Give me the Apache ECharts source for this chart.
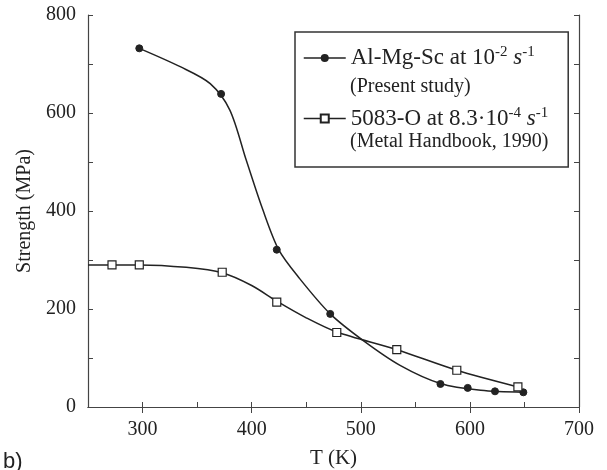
<!DOCTYPE html>
<html>
<head>
<meta charset="utf-8">
<script src="https://cdn.jsdelivr.net/npm/echarts@6/dist/echarts.min.js"></script>
<style>
  html, body { margin: 0; padding: 0; background: #fff; }
  #chart { width: 607px; height: 470px; }
</style>
</head>
<body>
<div id="chart"></div>
<script>
// Measured strengths (T in K, strength in MPa)
const alMgScT        = [297, 372, 423, 472, 573, 598, 623, 649];
const alMgScStrength = [732, 639, 321, 190, 47, 39, 32, 30];
const aa5083T        = [272, 297, 373, 423, 478, 533, 588, 644];
const aa5083Strength = [290, 290, 275, 214, 152, 117, 75, 41];

// Fitted trend curves, as drawn through the measurements
const alMgScFitT        = [297, 335, 362, 380, 395, 410, 425, 444, 472, 502, 536, 573, 610, 649];
const alMgScFitStrength = [732, 694, 660, 606, 504, 404, 320, 262, 190, 136, 85, 48, 34, 30];
const aa5083FitT        = [250, 297, 340, 373, 400, 423, 450, 478, 533, 588, 644];
const aa5083FitStrength = [290, 290, 285, 274, 248, 216, 182, 153, 117, 75, 41];

// Axis ticks
const xMajorTicks = [300, 400, 500, 600, 700];
const yTickLabels = [0, 200, 400, 600, 800];

const zip = (xs, ys) => xs.map((x, i) => [x, ys[i]]);

const ink = '#222';
const frame = '#444';
const serif = 'Liberation Serif';

const chart = echarts.init(document.getElementById('chart'), null, { renderer: 'canvas' });

const legendRich = {
  t:   { fontFamily: serif, fontSize: 23, color: ink, lineHeight: 26 },
  it:  { fontFamily: serif, fontSize: 23, color: ink, fontStyle: 'italic', lineHeight: 26 },
  sup: { fontFamily: serif, fontSize: 15, color: ink, verticalAlign: 'top', lineHeight: 26 }
};
const legendText = {
  'Al-Mg-Sc': '{t|Al-Mg-Sc at 10}{sup|-2}{t| }{it|s}{sup|-1}',
  '5083-O':   '{t|5083-O at 8.3·10}{sup|-4}{t| }{it|s}{sup|-1}'
};

chart.setOption({
  animation: false,
  backgroundColor: '#fff',
  textStyle: { fontFamily: serif },
  grid: { left: 88, right: 28, top: 15, bottom: 63, containLabel: false, outerBoundsMode: 'none' },
  xAxis: [
    {
      type: 'value', position: 'bottom', min: 250, max: 700, interval: 50,
      name: 'T (K)', nameLocation: 'middle', nameGap: 41,
      nameTextStyle: { fontFamily: serif, fontSize: 21, color: ink },
      axisLine: { show: true, lineStyle: { color: frame, width: 1.2 } },
      axisTick: { show: true, inside: true, length: 5, lineStyle: { color: frame } },
      axisLabel: {
        margin: 13, fontFamily: serif, fontSize: 20, color: ink,
        formatter: v => (xMajorTicks.includes(v) ? String(v) : '')
      },
      splitLine: { show: false }
    },
    {
      type: 'value', position: 'top', min: 250, max: 700, interval: 50,
      axisLine: { show: true, lineStyle: { color: frame, width: 1.2 } },
      axisTick: { show: true, inside: true, length: 6, customValues: xMajorTicks, lineStyle: { color: frame } },
      axisLabel: { show: false },
      splitLine: { show: false }
    }
  ],
  yAxis: [
    {
      type: 'value', position: 'left', min: 0, max: 800, interval: 100,
      name: 'Strength (MPa)', nameLocation: 'middle', nameGap: 52,
      nameTextStyle: { fontFamily: serif, fontSize: 20, color: ink },
      axisLine: { show: true, lineStyle: { color: frame, width: 1.2 } },
      axisTick: { show: true, inside: true, length: 5, lineStyle: { color: frame } },
      axisLabel: {
        margin: 12, fontFamily: serif, fontSize: 20, color: ink,
        formatter: v => (yTickLabels.includes(v) ? String(v) : '')
      },
      splitLine: { show: false }
    },
    {
      type: 'value', position: 'right', min: 0, max: 800, interval: 100,
      axisLine: { show: true, lineStyle: { color: frame, width: 1.2 } },
      axisTick: { show: true, inside: true, length: 5, lineStyle: { color: frame } },
      axisLabel: { show: false },
      splitLine: { show: false }
    }
  ],
  legend: {
    data: ['Al-Mg-Sc', '5083-O'],
    orient: 'vertical',
    left: 295, top: 32,
    padding: [13, 20, 37, 8],
    itemGap: 36,
    itemWidth: 42, itemHeight: 10,
    borderColor: '#333', borderWidth: 1.5,
    backgroundColor: '#fff',
    lineStyle: { opacity: 1, width: 1.5, color: ink },
    textStyle: { fontFamily: serif, rich: legendRich },
    formatter: name => legendText[name]
  },
  graphic: [
    { type: 'text', z: 100, left: 350, top: 77, style: { text: '(Present study)', font: '20px "Liberation Serif"', fill: ink } },
    { type: 'text', z: 100, left: 350, top: 132, style: { text: '(Metal Handbook, 1990)', font: '20px "Liberation Serif"', fill: ink } },
    { type: 'text', z: 100, left: 3, top: 451, style: { text: 'b)', font: '22px "Liberation Sans"', fill: ink } }
  ],
  series: [
    {
      name: 'Al-Mg-Sc fit', type: 'line', data: zip(alMgScFitT, alMgScFitStrength),
      smooth: 0.3, showSymbol: false, symbol: 'none', silent: true,
      lineStyle: { color: ink, width: 1.5 }, z: 2
    },
    {
      name: '5083-O fit', type: 'line', data: zip(aa5083FitT, aa5083FitStrength),
      smooth: 0.3, showSymbol: false, symbol: 'none', silent: true,
      lineStyle: { color: ink, width: 1.5 }, z: 2
    },
    {
      name: 'Al-Mg-Sc', type: 'line', data: zip(alMgScT, alMgScStrength),
      symbol: 'circle', symbolSize: 7,
      itemStyle: { color: ink, borderColor: ink },
      lineStyle: { color: ink, width: 1.5, opacity: 0 }, z: 3
    },
    {
      name: '5083-O', type: 'line', data: zip(aa5083T, aa5083Strength),
      symbol: 'rect', symbolSize: 8,
      itemStyle: { color: '#fff', borderColor: ink, borderWidth: 1.2 },
      lineStyle: { color: ink, width: 1.5, opacity: 0 }, z: 3
    }
  ]
});
</script>
</body>
</html>
